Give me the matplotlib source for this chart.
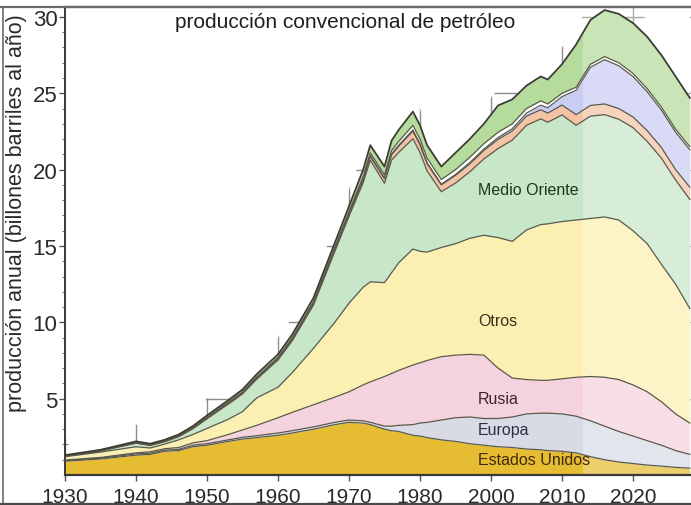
import matplotlib
matplotlib.use("Agg")
import matplotlib.pyplot as plt
from matplotlib.lines import Line2D
import numpy as np

# produccion anual por region (billones de barriles / ano)
years = [1930, 1935, 1940, 1942, 1944, 1946, 1948, 1950,
         1953, 1955, 1957, 1960, 1962, 1965, 1968, 1970,
         1972, 1973, 1975, 1976, 1977, 1979, 1980, 1981,
         1983, 1985, 1987, 1989, 1991, 1993, 1995, 1997,
         1998, 2000, 2002, 2004, 2006, 2008, 2010, 2012,
         2014, 2016, 2018]

estados_unidos = [0.9, 1.05, 1.3, 1.35, 1.55, 1.6, 1.85, 1.95,
                  2.2, 2.35, 2.45, 2.6, 2.75, 3.0, 3.3, 3.45,
                  3.4, 3.3, 3.0, 2.9, 2.85, 2.6, 2.55, 2.45,
                  2.3, 2.2, 2.05, 1.95, 1.85, 1.8, 1.7, 1.65,
                  1.6, 1.55, 1.45, 1.2, 1.0, 0.85, 0.75, 0.65,
                  0.58, 0.5, 0.45]
europa = [0.05, 0.05, 0.08, 0.08, 0.08, 0.08, 0.1, 0.1,
          0.1, 0.12, 0.12, 0.15, 0.15, 0.15, 0.15, 0.15,
          0.15, 0.15, 0.2, 0.3, 0.4, 0.7, 0.85, 1.0,
          1.3, 1.55, 1.75, 1.75, 1.85, 2.0, 2.3, 2.4,
          2.45, 2.45, 2.4, 2.35, 2.2, 2.0, 1.8, 1.6,
          1.37, 1.1, 0.9]
rusia = [0.03, 0.05, 0.07, 0.09, 0.09, 0.12, 0.15, 0.2,
         0.35, 0.48, 0.68, 1.0, 1.2, 1.45, 1.65, 1.85,
         2.35, 2.65, 3.25, 3.45, 3.6, 3.9, 3.95, 4.05,
         4.15, 4.1, 4.1, 4.15, 3.3, 2.55, 2.25, 2.15,
         2.15, 2.3, 2.55, 2.9, 3.2, 3.4, 3.35, 3.2,
         2.85, 2.4, 2.05]
otros = [0.22, 0.35, 0.4, 0.25, 0.3, 0.5, 0.55, 0.8,
         1.0, 1.2, 1.8, 2.0, 2.6, 3.7, 4.9, 5.8,
         6.4, 6.55, 6.15, 6.6, 7.05, 7.6, 7.3, 7.1,
         7.15, 7.3, 7.6, 7.85, 8.55, 8.95, 9.8, 10.2,
         10.25, 10.3, 10.3, 10.35, 10.5, 10.45, 10.1, 9.7,
         9.0, 8.5, 7.5]
medio_oriente = [0.03, 0.07, 0.23, 0.16, 0.15, 0.2, 0.37, 0.63,
                 0.99, 1.16, 1.22, 1.78, 2.08, 2.83, 4.64, 5.69,
                 6.85, 7.97, 6.5, 7.37, 7.23, 7.22, 6.47, 5.31,
                 3.65, 3.97, 4.35, 5.0, 5.83, 6.63, 6.85, 6.92,
                 6.65, 6.98, 6.2, 6.7, 6.7, 6.6, 6.75, 6.7,
                 6.95, 6.82, 7.15]
# franjas superiores sin rotulo
franja_naranja = [0.02, 0.02, 0.03, 0.03, 0.03, 0.03, 0.04, 0.05,
                  0.05, 0.06, 0.07, 0.08, 0.09, 0.1, 0.12, 0.15,
                  0.2, 0.25, 0.3, 0.35, 0.4, 0.5, 0.5, 0.48,
                  0.45, 0.5, 0.52, 0.55, 0.6, 0.6, 0.6, 0.6,
                  0.6, 0.65, 0.7, 0.7, 0.7, 0.7, 0.7, 0.7,
                  0.7, 0.68, 0.8]
franja_azul = [0.0, 0.0, 0.01, 0.01, 0.01, 0.01, 0.01, 0.01,
               0.02, 0.02, 0.02, 0.02, 0.03, 0.03, 0.04, 0.04,
               0.05, 0.05, 0.05, 0.06, 0.07, 0.08, 0.08, 0.06,
               0.05, 0.06, 0.08, 0.1, 0.12, 0.15, 0.2, 0.3,
               0.35, 0.55, 1.6, 2.5, 2.9, 2.8, 2.65, 2.55,
               2.45, 2.45, 2.45]
franja_blanca = [0.02, 0.02, 0.02, 0.02, 0.02, 0.03, 0.03, 0.04,
                 0.05, 0.05, 0.06, 0.07, 0.08, 0.09, 0.1, 0.12,
                 0.15, 0.18, 0.2, 0.22, 0.25, 0.3, 0.3, 0.3,
                 0.3, 0.32, 0.35, 0.35, 0.35, 0.32, 0.3, 0.28,
                 0.25, 0.22, 0.2, 0.2, 0.2, 0.2, 0.2, 0.2,
                 0.2, 0.2, 0.2]
franja_verde = [0.03, 0.04, 0.06, 0.06, 0.07, 0.08, 0.1, 0.12,
                0.14, 0.16, 0.18, 0.2, 0.22, 0.25, 0.3, 0.35,
                0.45, 0.5, 0.55, 0.65, 0.75, 0.9, 0.9, 0.85,
                0.85, 1.1, 1.2, 1.3, 1.75, 1.6, 1.5, 1.6,
                1.6, 1.9, 2.8, 2.9, 3.05, 3.2, 3.3, 3.4,
                3.4, 3.45, 3.2]

tick_years = [1930, 1940, 1950, 1960, 1970, 1980, 1990, 2000, 2010]
tick_labels = ["1930", "1940", "1950", "1960", "1970", "1980", "2000", "2010", "2020"]
y_ticks = [5, 10, 15, 20, 25, 30]

layers = [
    (estados_unidos, "#e6bd32", "Estados Unidos", "#402a0e"),
    (europa, "#d8dbe6", "Europa", "#26303e"),
    (rusia, "#f4d2de", "Rusia", "#42222f"),
    (otros, "#fcefb2", "Otros", "#38321a"),
    (medio_oriente, "#c8e7c9", "Medio Oriente", "#1f361f"),
    (franja_naranja, "#f3c3a3", None, None),
    (franja_azul, "#c9cdf3", None, None),
    (franja_blanca, "#ffffff", None, None),
    (franja_verde, "#b5dc9d", None, None),
]
label_pos = {"Estados Unidos": 1.0, "Europa": 3.0, "Rusia": 5.0,
             "Otros": 10.15, "Medio Oriente": 18.7}

sans = ["Liberation Sans", "DejaVu Sans"]

fig = plt.figure(figsize=(6.91, 5.06), dpi=100)
ax = fig.add_axes([65 / 691, 30 / 506, 1 - 65 / 691, 468 / 506])

x = np.array(years, dtype=float)
ymax = 30.65
xmax = 2018.17

# grid only shows in a thin sliver just above the total curve
ax.set_axisbelow(True)
ax.grid(True, color="#8c8c8c", lw=1.0)
total = np.sum([np.array(l[0]) for l in layers], axis=0)
ax.fill_between(x, total + 1.1, 40, color="white", lw=0, zorder=1)

base = np.zeros_like(x)
tops = []
for vals, col, name, tcol in layers:
    top = base + np.array(vals)
    ax.fill_between(x, base, top, color=col, lw=0, zorder=2)
    tops.append(top)
    base = top

# later years drawn a bit paler
ax.axvspan(2003, xmax + 1, color="white", alpha=0.28, lw=0, zorder=2.5)

for i, top in enumerate(tops):
    if i == len(tops) - 1:
        ax.plot(x, top, color="#3c3c34", lw=1.3, zorder=3)
    else:
        ax.plot(x, top, color="#5a5a4c", lw=0.9, zorder=3)

for vals, col, name, tcol in layers:
    if name:
        ax.text(1988.2, label_pos[name], name, color=tcol, fontsize=11.5,
                family=sans, ha="left", va="center", zorder=4)

ax.set_xlim(1930, xmax)
ax.set_ylim(0, ymax)
ax.set_xticks(tick_years)
ax.set_xticklabels(tick_labels, family=sans, fontsize=15, color="#2a2a2a")
ax.set_yticks(y_ticks)
ax.set_yticklabels([str(v) for v in y_ticks], family=sans, fontsize=16, color="#2a2a2a")
ax.set_yticks(np.arange(1, 31), minor=True)
ax.tick_params(axis="both", which="major", direction="inout", length=9,
               width=1.0, color="#555555")
ax.tick_params(axis="y", which="minor", direction="inout", length=4,
               width=0.8, color="#777777")
ax.tick_params(axis="y", pad=1)
ax.tick_params(axis="x", pad=4)

ax.spines["right"].set_visible(False)
ax.spines["left"].set_color("#3a3a3a")
ax.spines["left"].set_linewidth(1.4)
ax.spines["bottom"].set_color("#3a3a3a")
ax.spines["bottom"].set_linewidth(1.6)
ax.spines["top"].set_color("#6a6a6a")
ax.spines["top"].set_linewidth(1.6)

fig.text(175 / 691, 1 - 22 / 506, "producción convencional de petróleo",
         family=sans, fontsize=15, color="#1e1e1e", ha="left", va="center")
fig.text(17 / 691, 1 - 213 / 506, "producción anual (billones barriles al año)",
         family=sans, fontsize=15.5, color="#2a2a2a", rotation=90,
         ha="center", va="center")

# marco exterior
fig.add_artist(Line2D([0, 1], [1 - 8 / 506, 1 - 8 / 506], transform=fig.transFigure,
                      color="#6a6a6a", lw=1.6))
fig.add_artist(Line2D([3 / 691, 3 / 691], [0, 1 - 8 / 506], transform=fig.transFigure,
                      color="#6a6a6a", lw=1.2))
fig.add_artist(Line2D([0, 1], [1 / 506, 1 / 506], transform=fig.transFigure,
                      color="#4a4a4a", lw=1.6))

fig.savefig("out.png", dpi=100)
